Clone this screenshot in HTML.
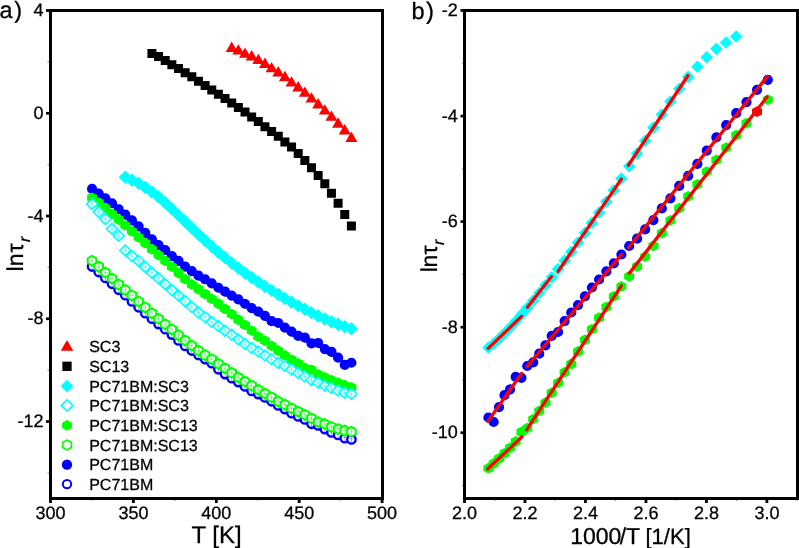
<!DOCTYPE html>
<html><head><meta charset="utf-8"><title>ln tau plots</title>
<style>
html,body{margin:0;padding:0;background:#fff;}
body{width:799px;height:548px;overflow:hidden;font-family:"Liberation Sans",sans-serif;}
svg{display:block;} text{text-rendering:geometricPrecision;} svg{will-change:transform;}
</style></head><body>
<svg width="799" height="548" viewBox="0 0 799 548">
<rect width="799" height="548" fill="#fff"/>
<g><circle cx="92.06" cy="266.5" r="4.2" fill="#fff" stroke="#0000ff" stroke-width="2.4"/><path d="M92.06 261.7V269.7M90.31 265.7H93.81" stroke="#0000ff" stroke-width="1" fill="none" opacity="0.35"/><circle cx="98.71" cy="272" r="4.2" fill="#fff" stroke="#0000ff" stroke-width="2.4"/><path d="M98.71 267.2V275.2M96.96 271.2H100.46" stroke="#0000ff" stroke-width="1" fill="none" opacity="0.35"/><circle cx="105.36" cy="277.9" r="4.2" fill="#fff" stroke="#0000ff" stroke-width="2.4"/><path d="M105.36 273.1V281.1M103.61 277.1H107.11" stroke="#0000ff" stroke-width="1" fill="none" opacity="0.35"/><circle cx="112.01" cy="283.8" r="4.2" fill="#fff" stroke="#0000ff" stroke-width="2.4"/><path d="M112.01 279V287M110.26 283H113.76" stroke="#0000ff" stroke-width="1" fill="none" opacity="0.35"/><circle cx="118.66" cy="289.8" r="4.2" fill="#fff" stroke="#0000ff" stroke-width="2.4"/><path d="M118.66 285V293M116.91 289H120.41" stroke="#0000ff" stroke-width="1" fill="none" opacity="0.35"/><circle cx="125.31" cy="295.2" r="4.2" fill="#fff" stroke="#0000ff" stroke-width="2.4"/><path d="M125.31 290.4V298.4M123.56 294.4H127.06" stroke="#0000ff" stroke-width="1" fill="none" opacity="0.35"/><circle cx="131.96" cy="301.4" r="4.2" fill="#fff" stroke="#0000ff" stroke-width="2.4"/><path d="M131.96 296.6V304.6M130.21 300.6H133.71" stroke="#0000ff" stroke-width="1" fill="none" opacity="0.35"/><circle cx="138.61" cy="307.3" r="4.2" fill="#fff" stroke="#0000ff" stroke-width="2.4"/><path d="M138.61 302.5V310.5M136.86 306.5H140.36" stroke="#0000ff" stroke-width="1" fill="none" opacity="0.35"/><circle cx="145.26" cy="313.2" r="4.2" fill="#fff" stroke="#0000ff" stroke-width="2.4"/><path d="M145.26 308.4V316.4M143.51 312.4H147.01" stroke="#0000ff" stroke-width="1" fill="none" opacity="0.35"/><circle cx="151.91" cy="318.7" r="4.2" fill="#fff" stroke="#0000ff" stroke-width="2.4"/><path d="M151.91 313.9V321.9M150.16 317.9H153.66" stroke="#0000ff" stroke-width="1" fill="none" opacity="0.35"/><circle cx="158.56" cy="324.1" r="4.2" fill="#fff" stroke="#0000ff" stroke-width="2.4"/><path d="M158.56 319.3V327.3M156.81 323.3H160.31" stroke="#0000ff" stroke-width="1" fill="none" opacity="0.35"/><circle cx="165.21" cy="329.2" r="4.2" fill="#fff" stroke="#0000ff" stroke-width="2.4"/><path d="M165.21 324.4V332.4M163.46 328.4H166.96" stroke="#0000ff" stroke-width="1" fill="none" opacity="0.35"/><circle cx="171.86" cy="334.6" r="4.2" fill="#fff" stroke="#0000ff" stroke-width="2.4"/><path d="M171.86 329.8V337.8M170.11 333.8H173.61" stroke="#0000ff" stroke-width="1" fill="none" opacity="0.35"/><circle cx="178.51" cy="340.4" r="4.2" fill="#fff" stroke="#0000ff" stroke-width="2.4"/><path d="M178.51 335.6V343.6M176.76 339.6H180.26" stroke="#0000ff" stroke-width="1" fill="none" opacity="0.35"/><circle cx="185.16" cy="345.9" r="4.2" fill="#fff" stroke="#0000ff" stroke-width="2.4"/><path d="M185.16 341.1V349.1M183.41 345.1H186.91" stroke="#0000ff" stroke-width="1" fill="none" opacity="0.35"/><circle cx="191.81" cy="350.5" r="4.2" fill="#fff" stroke="#0000ff" stroke-width="2.4"/><path d="M191.81 345.7V353.7M190.06 349.7H193.56" stroke="#0000ff" stroke-width="1" fill="none" opacity="0.35"/><circle cx="198.46" cy="355" r="4.2" fill="#fff" stroke="#0000ff" stroke-width="2.4"/><path d="M198.46 350.2V358.2M196.71 354.2H200.21" stroke="#0000ff" stroke-width="1" fill="none" opacity="0.35"/><circle cx="205.11" cy="359.1" r="4.2" fill="#fff" stroke="#0000ff" stroke-width="2.4"/><path d="M205.11 354.3V362.3M203.36 358.3H206.86" stroke="#0000ff" stroke-width="1" fill="none" opacity="0.35"/><circle cx="211.76" cy="363.2" r="4.2" fill="#fff" stroke="#0000ff" stroke-width="2.4"/><path d="M211.76 358.4V366.4M210.01 362.4H213.51" stroke="#0000ff" stroke-width="1" fill="none" opacity="0.35"/><circle cx="218.41" cy="369.3" r="4.2" fill="#fff" stroke="#0000ff" stroke-width="2.4"/><path d="M218.41 364.5V372.5M216.66 368.5H220.16" stroke="#0000ff" stroke-width="1" fill="none" opacity="0.35"/><circle cx="225.06" cy="374.1" r="4.2" fill="#fff" stroke="#0000ff" stroke-width="2.4"/><path d="M225.06 369.3V377.3M223.31 373.3H226.81" stroke="#0000ff" stroke-width="1" fill="none" opacity="0.35"/><circle cx="231.71" cy="378.2" r="4.2" fill="#fff" stroke="#0000ff" stroke-width="2.4"/><path d="M231.71 373.4V381.4M229.96 377.4H233.46" stroke="#0000ff" stroke-width="1" fill="none" opacity="0.35"/><circle cx="238.36" cy="382.1" r="4.2" fill="#fff" stroke="#0000ff" stroke-width="2.4"/><path d="M238.36 377.3V385.3M236.61 381.3H240.11" stroke="#0000ff" stroke-width="1" fill="none" opacity="0.35"/><circle cx="245.01" cy="386.4" r="4.2" fill="#fff" stroke="#0000ff" stroke-width="2.4"/><path d="M245.01 381.6V389.6M243.26 385.6H246.76" stroke="#0000ff" stroke-width="1" fill="none" opacity="0.35"/><circle cx="251.66" cy="390.9" r="4.2" fill="#fff" stroke="#0000ff" stroke-width="2.4"/><path d="M251.66 386.1V394.1M249.91 390.1H253.41" stroke="#0000ff" stroke-width="1" fill="none" opacity="0.35"/><circle cx="258.31" cy="394.1" r="4.2" fill="#fff" stroke="#0000ff" stroke-width="2.4"/><path d="M258.31 389.3V397.3M256.56 393.3H260.06" stroke="#0000ff" stroke-width="1" fill="none" opacity="0.35"/><circle cx="264.96" cy="397.4" r="4.2" fill="#fff" stroke="#0000ff" stroke-width="2.4"/><path d="M264.96 392.6V400.6M263.21 396.6H266.71" stroke="#0000ff" stroke-width="1" fill="none" opacity="0.35"/><circle cx="271.61" cy="401.3" r="4.2" fill="#fff" stroke="#0000ff" stroke-width="2.4"/><path d="M271.61 396.5V404.5M269.86 400.5H273.36" stroke="#0000ff" stroke-width="1" fill="none" opacity="0.35"/><circle cx="278.26" cy="405.4" r="4.2" fill="#fff" stroke="#0000ff" stroke-width="2.4"/><path d="M278.26 400.6V408.6M276.51 404.6H280.01" stroke="#0000ff" stroke-width="1" fill="none" opacity="0.35"/><circle cx="284.91" cy="409.1" r="4.2" fill="#fff" stroke="#0000ff" stroke-width="2.4"/><path d="M284.91 404.3V412.3M283.16 408.3H286.66" stroke="#0000ff" stroke-width="1" fill="none" opacity="0.35"/><circle cx="291.56" cy="413.2" r="4.2" fill="#fff" stroke="#0000ff" stroke-width="2.4"/><path d="M291.56 408.4V416.4M289.81 412.4H293.31" stroke="#0000ff" stroke-width="1" fill="none" opacity="0.35"/><circle cx="298.21" cy="416.4" r="4.2" fill="#fff" stroke="#0000ff" stroke-width="2.4"/><path d="M298.21 411.6V419.6M296.46 415.6H299.96" stroke="#0000ff" stroke-width="1" fill="none" opacity="0.35"/><circle cx="304.86" cy="419.4" r="4.2" fill="#fff" stroke="#0000ff" stroke-width="2.4"/><path d="M304.86 414.6V422.6M303.11 418.6H306.61" stroke="#0000ff" stroke-width="1" fill="none" opacity="0.35"/><circle cx="311.51" cy="423.8" r="4.2" fill="#fff" stroke="#0000ff" stroke-width="2.4"/><path d="M311.51 419V427M309.76 423H313.26" stroke="#0000ff" stroke-width="1" fill="none" opacity="0.35"/><circle cx="318.16" cy="425.4" r="4.2" fill="#fff" stroke="#0000ff" stroke-width="2.4"/><path d="M318.16 420.6V428.6M316.41 424.6H319.91" stroke="#0000ff" stroke-width="1" fill="none" opacity="0.35"/><circle cx="324.81" cy="429.1" r="4.2" fill="#fff" stroke="#0000ff" stroke-width="2.4"/><path d="M324.81 424.3V432.3M323.06 428.3H326.56" stroke="#0000ff" stroke-width="1" fill="none" opacity="0.35"/><circle cx="331.46" cy="432.4" r="4.2" fill="#fff" stroke="#0000ff" stroke-width="2.4"/><path d="M331.46 427.6V435.6M329.71 431.6H333.21" stroke="#0000ff" stroke-width="1" fill="none" opacity="0.35"/><circle cx="338.11" cy="434.9" r="4.2" fill="#fff" stroke="#0000ff" stroke-width="2.4"/><path d="M338.11 430.1V438.1M336.36 434.1H339.86" stroke="#0000ff" stroke-width="1" fill="none" opacity="0.35"/><circle cx="344.76" cy="438.2" r="4.2" fill="#fff" stroke="#0000ff" stroke-width="2.4"/><path d="M344.76 433.4V441.4M343.01 437.4H346.51" stroke="#0000ff" stroke-width="1" fill="none" opacity="0.35"/><circle cx="351.41" cy="439.4" r="4.2" fill="#fff" stroke="#0000ff" stroke-width="2.4"/><path d="M351.41 434.6V442.6M349.66 438.6H353.16" stroke="#0000ff" stroke-width="1" fill="none" opacity="0.35"/><path d="M86.96 188.9a5.1 5.1 0 1 0 10.2 0a5.1 5.1 0 1 0 -10.2 0ZM93.61 193.6a5.1 5.1 0 1 0 10.2 0a5.1 5.1 0 1 0 -10.2 0ZM100.26 198.37a5.1 5.1 0 1 0 10.2 0a5.1 5.1 0 1 0 -10.2 0ZM106.91 203.24a5.1 5.1 0 1 0 10.2 0a5.1 5.1 0 1 0 -10.2 0ZM113.56 209.23a5.1 5.1 0 1 0 10.2 0a5.1 5.1 0 1 0 -10.2 0ZM120.21 214.63a5.1 5.1 0 1 0 10.2 0a5.1 5.1 0 1 0 -10.2 0ZM126.86 220.42a5.1 5.1 0 1 0 10.2 0a5.1 5.1 0 1 0 -10.2 0ZM133.51 226.41a5.1 5.1 0 1 0 10.2 0a5.1 5.1 0 1 0 -10.2 0ZM140.16 232.83a5.1 5.1 0 1 0 10.2 0a5.1 5.1 0 1 0 -10.2 0ZM146.81 239.31a5.1 5.1 0 1 0 10.2 0a5.1 5.1 0 1 0 -10.2 0ZM153.46 245.1a5.1 5.1 0 1 0 10.2 0a5.1 5.1 0 1 0 -10.2 0ZM160.11 250.01a5.1 5.1 0 1 0 10.2 0a5.1 5.1 0 1 0 -10.2 0ZM166.76 256.05a5.1 5.1 0 1 0 10.2 0a5.1 5.1 0 1 0 -10.2 0ZM173.41 260.97a5.1 5.1 0 1 0 10.2 0a5.1 5.1 0 1 0 -10.2 0ZM180.06 266.66a5.1 5.1 0 1 0 10.2 0a5.1 5.1 0 1 0 -10.2 0ZM186.71 271.19a5.1 5.1 0 1 0 10.2 0a5.1 5.1 0 1 0 -10.2 0ZM193.36 275.71a5.1 5.1 0 1 0 10.2 0a5.1 5.1 0 1 0 -10.2 0ZM200.01 279.27a5.1 5.1 0 1 0 10.2 0a5.1 5.1 0 1 0 -10.2 0ZM206.66 283.4a5.1 5.1 0 1 0 10.2 0a5.1 5.1 0 1 0 -10.2 0ZM213.31 287.74a5.1 5.1 0 1 0 10.2 0a5.1 5.1 0 1 0 -10.2 0ZM219.96 291.63a5.1 5.1 0 1 0 10.2 0a5.1 5.1 0 1 0 -10.2 0ZM226.61 295.57a5.1 5.1 0 1 0 10.2 0a5.1 5.1 0 1 0 -10.2 0ZM233.26 299.47a5.1 5.1 0 1 0 10.2 0a5.1 5.1 0 1 0 -10.2 0ZM239.91 303.75a5.1 5.1 0 1 0 10.2 0a5.1 5.1 0 1 0 -10.2 0ZM246.56 308.03a5.1 5.1 0 1 0 10.2 0a5.1 5.1 0 1 0 -10.2 0ZM253.21 311.63a5.1 5.1 0 1 0 10.2 0a5.1 5.1 0 1 0 -10.2 0ZM259.86 315.82a5.1 5.1 0 1 0 10.2 0a5.1 5.1 0 1 0 -10.2 0ZM266.51 321.13a5.1 5.1 0 1 0 10.2 0a5.1 5.1 0 1 0 -10.2 0ZM273.16 322.98a5.1 5.1 0 1 0 10.2 0a5.1 5.1 0 1 0 -10.2 0ZM279.81 327.65a5.1 5.1 0 1 0 10.2 0a5.1 5.1 0 1 0 -10.2 0ZM286.46 331.69a5.1 5.1 0 1 0 10.2 0a5.1 5.1 0 1 0 -10.2 0ZM293.11 335.92a5.1 5.1 0 1 0 10.2 0a5.1 5.1 0 1 0 -10.2 0ZM299.76 337.68a5.1 5.1 0 1 0 10.2 0a5.1 5.1 0 1 0 -10.2 0ZM306.41 343.47a5.1 5.1 0 1 0 10.2 0a5.1 5.1 0 1 0 -10.2 0ZM313.06 342.98a5.1 5.1 0 1 0 10.2 0a5.1 5.1 0 1 0 -10.2 0ZM319.71 349.06a5.1 5.1 0 1 0 10.2 0a5.1 5.1 0 1 0 -10.2 0ZM326.36 351.89a5.1 5.1 0 1 0 10.2 0a5.1 5.1 0 1 0 -10.2 0ZM333.01 357.68a5.1 5.1 0 1 0 10.2 0a5.1 5.1 0 1 0 -10.2 0ZM339.66 364.93a5.1 5.1 0 1 0 10.2 0a5.1 5.1 0 1 0 -10.2 0ZM346.31 362.74a5.1 5.1 0 1 0 10.2 0a5.1 5.1 0 1 0 -10.2 0Z" fill="#0000ff"/><polygon points="92.06,255.8 96.36,258.25 96.36,263.15 92.06,265.6 87.76,263.15 87.76,258.25" fill="#fff" stroke="#00ff00" stroke-width="2"/><path d="M92.06 256.7V264.7M90.31 260.7H93.81" stroke="#00ff00" stroke-width="1" fill="none" opacity="0.5"/><polygon points="98.71,261.7 103.01,264.15 103.01,269.05 98.71,271.5 94.41,269.05 94.41,264.15" fill="#fff" stroke="#00ff00" stroke-width="2"/><path d="M98.71 262.6V270.6M96.96 266.6H100.46" stroke="#00ff00" stroke-width="1" fill="none" opacity="0.5"/><polygon points="105.36,267.6 109.66,270.05 109.66,274.95 105.36,277.4 101.06,274.95 101.06,270.05" fill="#fff" stroke="#00ff00" stroke-width="2"/><path d="M105.36 268.5V276.5M103.61 272.5H107.11" stroke="#00ff00" stroke-width="1" fill="none" opacity="0.5"/><polygon points="112.01,273.6 116.31,276.05 116.31,280.95 112.01,283.4 107.71,280.95 107.71,276.05" fill="#fff" stroke="#00ff00" stroke-width="2"/><path d="M112.01 274.5V282.5M110.26 278.5H113.76" stroke="#00ff00" stroke-width="1" fill="none" opacity="0.5"/><polygon points="118.66,279.5 122.96,281.95 122.96,286.85 118.66,289.3 114.36,286.85 114.36,281.95" fill="#fff" stroke="#00ff00" stroke-width="2"/><path d="M118.66 280.4V288.4M116.91 284.4H120.41" stroke="#00ff00" stroke-width="1" fill="none" opacity="0.5"/><polygon points="125.31,285 129.61,287.45 129.61,292.35 125.31,294.8 121.01,292.35 121.01,287.45" fill="#fff" stroke="#00ff00" stroke-width="2"/><path d="M125.31 285.9V293.9M123.56 289.9H127.06" stroke="#00ff00" stroke-width="1" fill="none" opacity="0.5"/><polygon points="131.96,290.5 136.26,292.95 136.26,297.85 131.96,300.3 127.66,297.85 127.66,292.95" fill="#fff" stroke="#00ff00" stroke-width="2"/><path d="M131.96 291.4V299.4M130.21 295.4H133.71" stroke="#00ff00" stroke-width="1" fill="none" opacity="0.5"/><polygon points="138.61,296.5 142.91,298.95 142.91,303.85 138.61,306.3 134.31,303.85 134.31,298.95" fill="#fff" stroke="#00ff00" stroke-width="2"/><path d="M138.61 297.4V305.4M136.86 301.4H140.36" stroke="#00ff00" stroke-width="1" fill="none" opacity="0.5"/><polygon points="145.26,302.5 149.56,304.95 149.56,309.85 145.26,312.3 140.96,309.85 140.96,304.95" fill="#fff" stroke="#00ff00" stroke-width="2"/><path d="M145.26 303.4V311.4M143.51 307.4H147.01" stroke="#00ff00" stroke-width="1" fill="none" opacity="0.5"/><polygon points="151.91,308.4 156.21,310.85 156.21,315.75 151.91,318.2 147.61,315.75 147.61,310.85" fill="#fff" stroke="#00ff00" stroke-width="2"/><path d="M151.91 309.3V317.3M150.16 313.3H153.66" stroke="#00ff00" stroke-width="1" fill="none" opacity="0.5"/><polygon points="158.56,313.9 162.86,316.35 162.86,321.25 158.56,323.7 154.26,321.25 154.26,316.35" fill="#fff" stroke="#00ff00" stroke-width="2"/><path d="M158.56 314.8V322.8M156.81 318.8H160.31" stroke="#00ff00" stroke-width="1" fill="none" opacity="0.5"/><polygon points="165.21,319.3 169.51,321.75 169.51,326.65 165.21,329.1 160.91,326.65 160.91,321.75" fill="#fff" stroke="#00ff00" stroke-width="2"/><path d="M165.21 320.2V328.2M163.46 324.2H166.96" stroke="#00ff00" stroke-width="1" fill="none" opacity="0.5"/><polygon points="171.86,324.5 176.16,326.95 176.16,331.85 171.86,334.3 167.56,331.85 167.56,326.95" fill="#fff" stroke="#00ff00" stroke-width="2"/><path d="M171.86 325.4V333.4M170.11 329.4H173.61" stroke="#00ff00" stroke-width="1" fill="none" opacity="0.5"/><polygon points="178.51,330.2 182.81,332.65 182.81,337.55 178.51,340 174.21,337.55 174.21,332.65" fill="#fff" stroke="#00ff00" stroke-width="2"/><path d="M178.51 331.1V339.1M176.76 335.1H180.26" stroke="#00ff00" stroke-width="1" fill="none" opacity="0.5"/><polygon points="185.16,335.6 189.46,338.05 189.46,342.95 185.16,345.4 180.86,342.95 180.86,338.05" fill="#fff" stroke="#00ff00" stroke-width="2"/><path d="M185.16 336.5V344.5M183.41 340.5H186.91" stroke="#00ff00" stroke-width="1" fill="none" opacity="0.5"/><polygon points="191.81,340.6 196.11,343.05 196.11,347.95 191.81,350.4 187.51,347.95 187.51,343.05" fill="#fff" stroke="#00ff00" stroke-width="2"/><path d="M191.81 341.5V349.5M190.06 345.5H193.56" stroke="#00ff00" stroke-width="1" fill="none" opacity="0.5"/><polygon points="198.46,345.7 202.76,348.15 202.76,353.05 198.46,355.5 194.16,353.05 194.16,348.15" fill="#fff" stroke="#00ff00" stroke-width="2"/><path d="M198.46 346.6V354.6M196.71 350.6H200.21" stroke="#00ff00" stroke-width="1" fill="none" opacity="0.5"/><polygon points="205.11,350.2 209.41,352.65 209.41,357.55 205.11,360 200.81,357.55 200.81,352.65" fill="#fff" stroke="#00ff00" stroke-width="2"/><path d="M205.11 351.1V359.1M203.36 355.1H206.86" stroke="#00ff00" stroke-width="1" fill="none" opacity="0.5"/><polygon points="211.76,354.3 216.06,356.75 216.06,361.65 211.76,364.1 207.46,361.65 207.46,356.75" fill="#fff" stroke="#00ff00" stroke-width="2"/><path d="M211.76 355.2V363.2M210.01 359.2H213.51" stroke="#00ff00" stroke-width="1" fill="none" opacity="0.5"/><polygon points="218.41,358.9 222.71,361.35 222.71,366.25 218.41,368.7 214.11,366.25 214.11,361.35" fill="#fff" stroke="#00ff00" stroke-width="2"/><path d="M218.41 359.8V367.8M216.66 363.8H220.16" stroke="#00ff00" stroke-width="1" fill="none" opacity="0.5"/><polygon points="225.06,363.3 229.36,365.75 229.36,370.65 225.06,373.1 220.76,370.65 220.76,365.75" fill="#fff" stroke="#00ff00" stroke-width="2"/><path d="M225.06 364.2V372.2M223.31 368.2H226.81" stroke="#00ff00" stroke-width="1" fill="none" opacity="0.5"/><polygon points="231.71,367.9 236.01,370.35 236.01,375.25 231.71,377.7 227.41,375.25 227.41,370.35" fill="#fff" stroke="#00ff00" stroke-width="2"/><path d="M231.71 368.8V376.8M229.96 372.8H233.46" stroke="#00ff00" stroke-width="1" fill="none" opacity="0.5"/><polygon points="238.36,372.5 242.66,374.95 242.66,379.85 238.36,382.3 234.06,379.85 234.06,374.95" fill="#fff" stroke="#00ff00" stroke-width="2"/><path d="M238.36 373.4V381.4M236.61 377.4H240.11" stroke="#00ff00" stroke-width="1" fill="none" opacity="0.5"/><polygon points="245.01,376.6 249.31,379.05 249.31,383.95 245.01,386.4 240.71,383.95 240.71,379.05" fill="#fff" stroke="#00ff00" stroke-width="2"/><path d="M245.01 377.5V385.5M243.26 381.5H246.76" stroke="#00ff00" stroke-width="1" fill="none" opacity="0.5"/><polygon points="251.66,380.7 255.96,383.15 255.96,388.05 251.66,390.5 247.36,388.05 247.36,383.15" fill="#fff" stroke="#00ff00" stroke-width="2"/><path d="M251.66 381.6V389.6M249.91 385.6H253.41" stroke="#00ff00" stroke-width="1" fill="none" opacity="0.5"/><polygon points="258.31,384.8 262.61,387.25 262.61,392.15 258.31,394.6 254.01,392.15 254.01,387.25" fill="#fff" stroke="#00ff00" stroke-width="2"/><path d="M258.31 385.7V393.7M256.56 389.7H260.06" stroke="#00ff00" stroke-width="1" fill="none" opacity="0.5"/><polygon points="264.96,388.6 269.26,391.05 269.26,395.95 264.96,398.4 260.66,395.95 260.66,391.05" fill="#fff" stroke="#00ff00" stroke-width="2"/><path d="M264.96 389.5V397.5M263.21 393.5H266.71" stroke="#00ff00" stroke-width="1" fill="none" opacity="0.5"/><polygon points="271.61,392.4 275.91,394.85 275.91,399.75 271.61,402.2 267.31,399.75 267.31,394.85" fill="#fff" stroke="#00ff00" stroke-width="2"/><path d="M271.61 393.3V401.3M269.86 397.3H273.36" stroke="#00ff00" stroke-width="1" fill="none" opacity="0.5"/><polygon points="278.26,396.5 282.56,398.95 282.56,403.85 278.26,406.3 273.96,403.85 273.96,398.95" fill="#fff" stroke="#00ff00" stroke-width="2"/><path d="M278.26 397.4V405.4M276.51 401.4H280.01" stroke="#00ff00" stroke-width="1" fill="none" opacity="0.5"/><polygon points="284.91,399.7 289.21,402.15 289.21,407.05 284.91,409.5 280.61,407.05 280.61,402.15" fill="#fff" stroke="#00ff00" stroke-width="2"/><path d="M284.91 400.6V408.6M283.16 404.6H286.66" stroke="#00ff00" stroke-width="1" fill="none" opacity="0.5"/><polygon points="291.56,403.4 295.86,405.85 295.86,410.75 291.56,413.2 287.26,410.75 287.26,405.85" fill="#fff" stroke="#00ff00" stroke-width="2"/><path d="M291.56 404.3V412.3M289.81 408.3H293.31" stroke="#00ff00" stroke-width="1" fill="none" opacity="0.5"/><polygon points="298.21,406.6 302.51,409.05 302.51,413.95 298.21,416.4 293.91,413.95 293.91,409.05" fill="#fff" stroke="#00ff00" stroke-width="2"/><path d="M298.21 407.5V415.5M296.46 411.5H299.96" stroke="#00ff00" stroke-width="1" fill="none" opacity="0.5"/><polygon points="304.86,409.8 309.16,412.25 309.16,417.15 304.86,419.6 300.56,417.15 300.56,412.25" fill="#fff" stroke="#00ff00" stroke-width="2"/><path d="M304.86 410.7V418.7M303.11 414.7H306.61" stroke="#00ff00" stroke-width="1" fill="none" opacity="0.5"/><polygon points="311.51,413.4 315.81,415.85 315.81,420.75 311.51,423.2 307.21,420.75 307.21,415.85" fill="#fff" stroke="#00ff00" stroke-width="2"/><path d="M311.51 414.3V422.3M309.76 418.3H313.26" stroke="#00ff00" stroke-width="1" fill="none" opacity="0.5"/><polygon points="318.16,417.1 322.46,419.55 322.46,424.45 318.16,426.9 313.86,424.45 313.86,419.55" fill="#fff" stroke="#00ff00" stroke-width="2"/><path d="M318.16 418V426M316.41 422H319.91" stroke="#00ff00" stroke-width="1" fill="none" opacity="0.5"/><polygon points="324.81,419.1 329.11,421.55 329.11,426.45 324.81,428.9 320.51,426.45 320.51,421.55" fill="#fff" stroke="#00ff00" stroke-width="2"/><path d="M324.81 420V428M323.06 424H326.56" stroke="#00ff00" stroke-width="1" fill="none" opacity="0.5"/><polygon points="331.46,422 335.76,424.45 335.76,429.35 331.46,431.8 327.16,429.35 327.16,424.45" fill="#fff" stroke="#00ff00" stroke-width="2"/><path d="M331.46 422.9V430.9M329.71 426.9H333.21" stroke="#00ff00" stroke-width="1" fill="none" opacity="0.5"/><polygon points="338.11,424.1 342.41,426.55 342.41,431.45 338.11,433.9 333.81,431.45 333.81,426.55" fill="#fff" stroke="#00ff00" stroke-width="2"/><path d="M338.11 425V433M336.36 429H339.86" stroke="#00ff00" stroke-width="1" fill="none" opacity="0.5"/><polygon points="344.76,425.7 349.06,428.15 349.06,433.05 344.76,435.5 340.46,433.05 340.46,428.15" fill="#fff" stroke="#00ff00" stroke-width="2"/><path d="M344.76 426.6V434.6M343.01 430.6H346.51" stroke="#00ff00" stroke-width="1" fill="none" opacity="0.5"/><polygon points="351.41,426.9 355.71,429.35 355.71,434.25 351.41,436.7 347.11,434.25 347.11,429.35" fill="#fff" stroke="#00ff00" stroke-width="2"/><path d="M351.41 427.8V435.8M349.66 431.8H353.16" stroke="#00ff00" stroke-width="1" fill="none" opacity="0.5"/><path d="M92.06 192.4L97.06 195.1L97.06 200.5L92.06 203.2L87.06 200.5L87.06 195.1ZM98.71 197.2L103.71 199.9L103.71 205.3L98.71 208L93.71 205.3L93.71 199.9ZM105.36 202.61L110.36 205.31L110.36 210.71L105.36 213.41L100.36 210.71L100.36 205.31ZM112.01 208.5L117.01 211.2L117.01 216.6L112.01 219.3L107.01 216.6L107.01 211.2ZM118.66 214.1L123.66 216.8L123.66 222.2L118.66 224.9L113.66 222.2L113.66 216.8ZM125.31 219.94L130.31 222.64L130.31 228.04L125.31 230.74L120.31 228.04L120.31 222.64ZM131.96 225.97L136.96 228.67L136.96 234.07L131.96 236.77L126.96 234.07L126.96 228.67ZM138.61 231.96L143.61 234.66L143.61 240.06L138.61 242.76L133.61 240.06L133.61 234.66ZM145.26 237.65L150.26 240.35L150.26 245.75L145.26 248.45L140.26 245.75L140.26 240.35ZM151.91 243.83L156.91 246.53L156.91 251.93L151.91 254.63L146.91 251.93L146.91 246.53ZM158.56 249.68L163.56 252.38L163.56 257.78L158.56 260.48L153.56 257.78L153.56 252.38ZM165.21 255.47L170.21 258.17L170.21 263.57L165.21 266.27L160.21 263.57L160.21 258.17ZM171.86 261.41L176.86 264.11L176.86 269.51L171.86 272.21L166.86 269.51L166.86 264.11ZM178.51 267.59L183.51 270.29L183.51 275.69L178.51 278.39L173.51 275.69L173.51 270.29ZM185.16 273.82L190.16 276.52L190.16 281.92L185.16 284.62L180.16 281.92L180.16 276.52ZM191.81 279.03L196.81 281.73L196.81 287.13L191.81 289.83L186.81 287.13L186.81 281.73ZM198.46 283.84L203.46 286.54L203.46 291.94L198.46 294.64L193.46 291.94L193.46 286.54ZM205.11 288.66L210.11 291.36L210.11 296.76L205.11 299.46L200.11 296.76L200.11 291.36ZM211.76 293.53L216.76 296.23L216.76 301.63L211.76 304.33L206.76 301.63L206.76 296.23ZM218.41 298.35L223.41 301.05L223.41 306.45L218.41 309.15L213.41 306.45L213.41 301.05ZM225.06 303.56L230.06 306.26L230.06 311.66L225.06 314.36L220.06 311.66L220.06 306.26ZM231.71 308.77L236.71 311.47L236.71 316.87L231.71 319.57L226.71 316.87L226.71 311.47ZM238.36 314.36L243.36 317.06L243.36 322.46L238.36 325.16L233.36 322.46L233.36 317.06ZM245.01 319.57L250.01 322.27L250.01 327.67L245.01 330.37L240.01 327.67L240.01 322.27ZM251.66 325.22L256.66 327.92L256.66 333.32L251.66 336.02L246.66 333.32L246.66 327.92ZM258.31 331.3L263.31 334L263.31 339.4L258.31 342.1L253.31 339.4L253.31 334ZM264.96 335.29L269.96 337.99L269.96 343.39L264.96 346.09L259.96 343.39L259.96 337.99ZM271.61 340.5L276.61 343.2L276.61 348.6L271.61 351.3L266.61 348.6L266.61 343.2ZM278.26 345.32L283.26 348.02L283.26 353.42L278.26 356.12L273.26 353.42L273.26 348.02ZM284.91 350.09L289.91 352.79L289.91 358.19L284.91 360.89L279.91 358.19L279.91 352.79ZM291.56 354.13L296.56 356.83L296.56 362.23L291.56 364.93L286.56 362.23L286.56 356.83ZM298.21 358.12L303.21 360.82L303.21 366.22L298.21 368.92L293.21 366.22L293.21 360.82ZM304.86 362.5L309.86 365.2L309.86 370.6L304.86 373.3L299.86 370.6L299.86 365.2ZM311.51 364.4L316.51 367.1L316.51 372.5L311.51 375.2L306.51 372.5L306.51 367.1ZM318.16 369.02L323.16 371.72L323.16 377.12L318.16 379.82L313.16 377.12L313.16 371.72ZM324.81 372.09L329.81 374.79L329.81 380.19L324.81 382.89L319.81 380.19L319.81 374.79ZM331.46 374.77L336.46 377.47L336.46 382.87L331.46 385.57L326.46 382.87L326.46 377.47ZM338.11 377.3L343.11 380L343.11 385.4L338.11 388.1L333.11 385.4L333.11 380ZM344.76 379.73L349.76 382.43L349.76 387.83L344.76 390.53L339.76 387.83L339.76 382.43ZM351.41 382.02L356.41 384.72L356.41 390.12L351.41 392.82L346.41 390.12L346.41 384.72Z" fill="#00ff00"/><polygon points="92.06,198.6 97.66,204 92.06,209.4 86.46,204" fill="#fff" stroke="#00ffff" stroke-width="1.6"/><path d="M92.06 200V208M90.31 204H93.81" stroke="#00ffff" stroke-width="1" fill="none" opacity="0.6"/><polygon points="98.71,206.7 104.31,212.1 98.71,217.5 93.11,212.1" fill="#fff" stroke="#00ffff" stroke-width="1.6"/><path d="M98.71 208.1V216.1M96.96 212.1H100.46" stroke="#00ffff" stroke-width="1" fill="none" opacity="0.6"/><polygon points="105.36,213.6 110.96,219 105.36,224.4 99.76,219" fill="#fff" stroke="#00ffff" stroke-width="1.6"/><path d="M105.36 215V223M103.61 219H107.11" stroke="#00ffff" stroke-width="1" fill="none" opacity="0.6"/><polygon points="112.01,223.4 117.61,228.8 112.01,234.2 106.41,228.8" fill="#fff" stroke="#00ffff" stroke-width="1.6"/><path d="M112.01 224.8V232.8M110.26 228.8H113.76" stroke="#00ffff" stroke-width="1" fill="none" opacity="0.6"/><polygon points="118.66,230.3 124.26,235.7 118.66,241.1 113.06,235.7" fill="#fff" stroke="#00ffff" stroke-width="1.6"/><path d="M118.66 231.7V239.7M116.91 235.7H120.41" stroke="#00ffff" stroke-width="1" fill="none" opacity="0.6"/><polygon points="125.31,245 130.91,250.4 125.31,255.8 119.71,250.4" fill="#fff" stroke="#00ffff" stroke-width="1.6"/><path d="M125.31 246.4V254.4M123.56 250.4H127.06" stroke="#00ffff" stroke-width="1" fill="none" opacity="0.6"/><polygon points="131.96,250.7 137.56,256.1 131.96,261.5 126.36,256.1" fill="#fff" stroke="#00ffff" stroke-width="1.6"/><path d="M131.96 252.1V260.1M130.21 256.1H133.71" stroke="#00ffff" stroke-width="1" fill="none" opacity="0.6"/><polygon points="138.61,255.5 144.21,260.9 138.61,266.3 133.01,260.9" fill="#fff" stroke="#00ffff" stroke-width="1.6"/><path d="M138.61 256.9V264.9M136.86 260.9H140.36" stroke="#00ffff" stroke-width="1" fill="none" opacity="0.6"/><polygon points="145.26,261.5 150.86,266.9 145.26,272.3 139.66,266.9" fill="#fff" stroke="#00ffff" stroke-width="1.6"/><path d="M145.26 262.9V270.9M143.51 266.9H147.01" stroke="#00ffff" stroke-width="1" fill="none" opacity="0.6"/><polygon points="151.91,267.4 157.51,272.8 151.91,278.2 146.31,272.8" fill="#fff" stroke="#00ffff" stroke-width="1.6"/><path d="M151.91 268.8V276.8M150.16 272.8H153.66" stroke="#00ffff" stroke-width="1" fill="none" opacity="0.6"/><polygon points="158.56,272.9 164.16,278.3 158.56,283.7 152.96,278.3" fill="#fff" stroke="#00ffff" stroke-width="1.6"/><path d="M158.56 274.3V282.3M156.81 278.3H160.31" stroke="#00ffff" stroke-width="1" fill="none" opacity="0.6"/><polygon points="165.21,278.8 170.81,284.2 165.21,289.6 159.61,284.2" fill="#fff" stroke="#00ffff" stroke-width="1.6"/><path d="M165.21 280.2V288.2M163.46 284.2H166.96" stroke="#00ffff" stroke-width="1" fill="none" opacity="0.6"/><polygon points="171.86,284.7 177.46,290.1 171.86,295.5 166.26,290.1" fill="#fff" stroke="#00ffff" stroke-width="1.6"/><path d="M171.86 286.1V294.1M170.11 290.1H173.61" stroke="#00ffff" stroke-width="1" fill="none" opacity="0.6"/><polygon points="178.51,290.2 184.11,295.6 178.51,301 172.91,295.6" fill="#fff" stroke="#00ffff" stroke-width="1.6"/><path d="M178.51 291.6V299.6M176.76 295.6H180.26" stroke="#00ffff" stroke-width="1" fill="none" opacity="0.6"/><polygon points="185.16,295.8 190.76,301.2 185.16,306.6 179.56,301.2" fill="#fff" stroke="#00ffff" stroke-width="1.6"/><path d="M185.16 297.2V305.2M183.41 301.2H186.91" stroke="#00ffff" stroke-width="1" fill="none" opacity="0.6"/><polygon points="191.81,301.7 197.41,307.1 191.81,312.5 186.21,307.1" fill="#fff" stroke="#00ffff" stroke-width="1.6"/><path d="M191.81 303.1V311.1M190.06 307.1H193.56" stroke="#00ffff" stroke-width="1" fill="none" opacity="0.6"/><polygon points="198.46,307.2 204.06,312.6 198.46,318 192.86,312.6" fill="#fff" stroke="#00ffff" stroke-width="1.6"/><path d="M198.46 308.6V316.6M196.71 312.6H200.21" stroke="#00ffff" stroke-width="1" fill="none" opacity="0.6"/><polygon points="205.11,311.7 210.71,317.1 205.11,322.5 199.51,317.1" fill="#fff" stroke="#00ffff" stroke-width="1.6"/><path d="M205.11 313.1V321.1M203.36 317.1H206.86" stroke="#00ffff" stroke-width="1" fill="none" opacity="0.6"/><polygon points="211.76,316.7 217.36,322.1 211.76,327.5 206.16,322.1" fill="#fff" stroke="#00ffff" stroke-width="1.6"/><path d="M211.76 318.1V326.1M210.01 322.1H213.51" stroke="#00ffff" stroke-width="1" fill="none" opacity="0.6"/><polygon points="218.41,320.7 224.01,326.1 218.41,331.5 212.81,326.1" fill="#fff" stroke="#00ffff" stroke-width="1.6"/><path d="M218.41 322.1V330.1M216.66 326.1H220.16" stroke="#00ffff" stroke-width="1" fill="none" opacity="0.6"/><polygon points="225.06,325.3 230.66,330.7 225.06,336.1 219.46,330.7" fill="#fff" stroke="#00ffff" stroke-width="1.6"/><path d="M225.06 326.7V334.7M223.31 330.7H226.81" stroke="#00ffff" stroke-width="1" fill="none" opacity="0.6"/><polygon points="231.71,329.4 237.31,334.8 231.71,340.2 226.11,334.8" fill="#fff" stroke="#00ffff" stroke-width="1.6"/><path d="M231.71 330.8V338.8M229.96 334.8H233.46" stroke="#00ffff" stroke-width="1" fill="none" opacity="0.6"/><polygon points="238.36,334.2 243.96,339.6 238.36,345 232.76,339.6" fill="#fff" stroke="#00ffff" stroke-width="1.6"/><path d="M238.36 335.6V343.6M236.61 339.6H240.11" stroke="#00ffff" stroke-width="1" fill="none" opacity="0.6"/><polygon points="245.01,338.7 250.61,344.1 245.01,349.5 239.41,344.1" fill="#fff" stroke="#00ffff" stroke-width="1.6"/><path d="M245.01 340.1V348.1M243.26 344.1H246.76" stroke="#00ffff" stroke-width="1" fill="none" opacity="0.6"/><polygon points="251.66,342.7 257.26,348.1 251.66,353.5 246.06,348.1" fill="#fff" stroke="#00ffff" stroke-width="1.6"/><path d="M251.66 344.1V352.1M249.91 348.1H253.41" stroke="#00ffff" stroke-width="1" fill="none" opacity="0.6"/><polygon points="258.31,346.2 263.91,351.6 258.31,357 252.71,351.6" fill="#fff" stroke="#00ffff" stroke-width="1.6"/><path d="M258.31 347.6V355.6M256.56 351.6H260.06" stroke="#00ffff" stroke-width="1" fill="none" opacity="0.6"/><polygon points="264.96,350.2 270.56,355.6 264.96,361 259.36,355.6" fill="#fff" stroke="#00ffff" stroke-width="1.6"/><path d="M264.96 351.6V359.6M263.21 355.6H266.71" stroke="#00ffff" stroke-width="1" fill="none" opacity="0.6"/><polygon points="271.61,353.9 277.21,359.3 271.61,364.7 266.01,359.3" fill="#fff" stroke="#00ffff" stroke-width="1.6"/><path d="M271.61 355.3V363.3M269.86 359.3H273.36" stroke="#00ffff" stroke-width="1" fill="none" opacity="0.6"/><polygon points="278.26,357.6 283.86,363 278.26,368.4 272.66,363" fill="#fff" stroke="#00ffff" stroke-width="1.6"/><path d="M278.26 359V367M276.51 363H280.01" stroke="#00ffff" stroke-width="1" fill="none" opacity="0.6"/><polygon points="284.91,360.7 290.51,366.1 284.91,371.5 279.31,366.1" fill="#fff" stroke="#00ffff" stroke-width="1.6"/><path d="M284.91 362.1V370.1M283.16 366.1H286.66" stroke="#00ffff" stroke-width="1" fill="none" opacity="0.6"/><polygon points="291.56,364.2 297.16,369.6 291.56,375 285.96,369.6" fill="#fff" stroke="#00ffff" stroke-width="1.6"/><path d="M291.56 365.6V373.6M289.81 369.6H293.31" stroke="#00ffff" stroke-width="1" fill="none" opacity="0.6"/><polygon points="298.21,367.7 303.81,373.1 298.21,378.5 292.61,373.1" fill="#fff" stroke="#00ffff" stroke-width="1.6"/><path d="M298.21 369.1V377.1M296.46 373.1H299.96" stroke="#00ffff" stroke-width="1" fill="none" opacity="0.6"/><polygon points="304.86,371.2 310.46,376.6 304.86,382 299.26,376.6" fill="#fff" stroke="#00ffff" stroke-width="1.6"/><path d="M304.86 372.6V380.6M303.11 376.6H306.61" stroke="#00ffff" stroke-width="1" fill="none" opacity="0.6"/><polygon points="311.51,374.8 317.11,380.2 311.51,385.6 305.91,380.2" fill="#fff" stroke="#00ffff" stroke-width="1.6"/><path d="M311.51 376.2V384.2M309.76 380.2H313.26" stroke="#00ffff" stroke-width="1" fill="none" opacity="0.6"/><polygon points="318.16,377.3 323.76,382.7 318.16,388.1 312.56,382.7" fill="#fff" stroke="#00ffff" stroke-width="1.6"/><path d="M318.16 378.7V386.7M316.41 382.7H319.91" stroke="#00ffff" stroke-width="1" fill="none" opacity="0.6"/><polygon points="324.81,380.4 330.41,385.8 324.81,391.2 319.21,385.8" fill="#fff" stroke="#00ffff" stroke-width="1.6"/><path d="M324.81 381.8V389.8M323.06 385.8H326.56" stroke="#00ffff" stroke-width="1" fill="none" opacity="0.6"/><polygon points="331.46,382.6 337.06,388 331.46,393.4 325.86,388" fill="#fff" stroke="#00ffff" stroke-width="1.6"/><path d="M331.46 384V392M329.71 388H333.21" stroke="#00ffff" stroke-width="1" fill="none" opacity="0.6"/><polygon points="338.11,385.2 343.71,390.6 338.11,396 332.51,390.6" fill="#fff" stroke="#00ffff" stroke-width="1.6"/><path d="M338.11 386.6V394.6M336.36 390.6H339.86" stroke="#00ffff" stroke-width="1" fill="none" opacity="0.6"/><polygon points="344.76,387.3 350.36,392.7 344.76,398.1 339.16,392.7" fill="#fff" stroke="#00ffff" stroke-width="1.6"/><path d="M344.76 388.7V396.7M343.01 392.7H346.51" stroke="#00ffff" stroke-width="1" fill="none" opacity="0.6"/><polygon points="351.41,388.6 357.01,394 351.41,399.4 345.81,394" fill="#fff" stroke="#00ffff" stroke-width="1.6"/><path d="M351.41 390V398M349.66 394H353.16" stroke="#00ffff" stroke-width="1" fill="none" opacity="0.6"/><path d="M125.31 170.5L131.91 177.3L125.31 184.1L118.71 177.3ZM131.96 173.42L138.56 180.22L131.96 187.02L125.36 180.22ZM138.61 176.48L145.21 183.28L138.61 190.08L132.01 183.28ZM145.26 180.62L151.86 187.42L145.26 194.22L138.66 187.42ZM151.91 185.19L158.51 191.99L151.91 198.79L145.31 191.99ZM158.56 190.16L165.16 196.96L158.56 203.76L151.96 196.96ZM165.21 195.99L171.81 202.79L165.21 209.59L158.61 202.79ZM171.86 202.12L178.46 208.92L171.86 215.72L165.26 208.92ZM178.51 208.44L185.11 215.24L178.51 222.04L171.91 215.24ZM185.16 214.83L191.76 221.63L185.16 228.43L178.56 221.63ZM191.81 221.21L198.41 228.01L191.81 234.81L185.21 228.01ZM198.46 227.5L205.06 234.3L198.46 241.1L191.86 234.3ZM205.11 233.64L211.71 240.44L205.11 247.24L198.51 240.44ZM211.76 239.6L218.36 246.4L211.76 253.2L205.16 246.4ZM218.41 245.34L225.01 252.14L218.41 258.94L211.81 252.14ZM225.06 250.86L231.66 257.66L225.06 264.46L218.46 257.66ZM231.71 256.16L238.31 262.96L231.71 269.76L225.11 262.96ZM238.36 261.23L244.96 268.03L238.36 274.83L231.76 268.03ZM245.01 266.09L251.61 272.89L245.01 279.69L238.41 272.89ZM251.66 270.75L258.26 277.55L251.66 284.35L245.06 277.55ZM258.31 275.23L264.91 282.03L258.31 288.83L251.71 282.03ZM264.96 279.54L271.56 286.34L264.96 293.14L258.36 286.34ZM271.61 283.7L278.21 290.5L271.61 297.3L265.01 290.5ZM278.26 287.72L284.86 294.52L278.26 301.32L271.66 294.52ZM284.91 291.6L291.51 298.4L284.91 305.2L278.31 298.4ZM291.56 295.37L298.16 302.17L291.56 308.97L284.96 302.17ZM298.21 299L304.81 305.8L298.21 312.6L291.61 305.8ZM304.86 302.51L311.46 309.31L304.86 316.11L298.26 309.31ZM311.51 305.88L318.11 312.68L311.51 319.48L304.91 312.68ZM318.16 309.09L324.76 315.89L318.16 322.69L311.56 315.89ZM324.81 312.13L331.41 318.93L324.81 325.73L318.21 318.93ZM331.46 314.97L338.06 321.77L331.46 328.57L324.86 321.77ZM338.11 317.57L344.71 324.37L338.11 331.17L331.51 324.37ZM344.76 319.9L351.36 326.7L344.76 333.5L338.16 326.7ZM351.41 321.91L358.01 328.71L351.41 335.51L344.81 328.71Z" fill="#00ffff"/><path d="M147.41 48.9h9v9h-9ZM154.06 52.1h9v9h-9ZM160.71 55.9h9v9h-9ZM167.36 60.2h9v9h-9ZM174.01 64.1h9v9h-9ZM180.66 68.2h9v9h-9ZM187.31 72.3h9v9h-9ZM193.96 76.8h9v9h-9ZM200.61 81.1h9v9h-9ZM207.26 85.4h9v9h-9ZM213.91 89.7h9v9h-9ZM220.56 94.1h9v9h-9ZM227.21 98.5h9v9h-9ZM233.86 103h9v9h-9ZM240.51 107.5h9v9h-9ZM247.16 112.6h9v9h-9ZM253.81 117h9v9h-9ZM260.46 122.2h9v9h-9ZM267.11 127h9v9h-9ZM273.76 131.8h9v9h-9ZM280.41 137.5h9v9h-9ZM287.06 142.6h9v9h-9ZM293.71 149.1h9v9h-9ZM300.36 156h9v9h-9ZM307.01 163.3h9v9h-9ZM313.66 171h9v9h-9ZM320.31 179.3h9v9h-9ZM326.96 188.7h9v9h-9ZM333.61 198.7h9v9h-9ZM340.26 210h9v9h-9ZM346.91 221.5h9v9h-9Z" fill="#000"/><path d="M231.71 41.5L225.71 51.9L237.71 51.9ZM238.36 44.2L232.36 54.6L244.36 54.6ZM245.01 47.4L239.01 57.8L251.01 57.8ZM251.66 50L245.66 60.4L257.66 60.4ZM258.31 53.7L252.31 64.1L264.31 64.1ZM264.96 57.6L258.96 68L270.96 68ZM271.61 61.9L265.61 72.3L277.61 72.3ZM278.26 66.1L272.26 76.5L284.26 76.5ZM284.91 70.8L278.91 81.2L290.91 81.2ZM291.56 76.2L285.56 86.6L297.56 86.6ZM298.21 81L292.21 91.4L304.21 91.4ZM304.86 86.4L298.86 96.8L310.86 96.8ZM311.51 92.2L305.51 102.6L317.51 102.6ZM318.16 98.1L312.16 108.5L324.16 108.5ZM324.81 104.2L318.81 114.6L330.81 114.6ZM331.46 110.4L325.46 120.8L337.46 120.8ZM338.11 117.3L332.11 127.7L344.11 127.7ZM344.76 124.1L338.76 134.5L350.76 134.5ZM351.41 131.6L345.41 142L357.41 142Z" fill="#ff0000"/></g>
<g><path d="M736.22 30.2L742.52 36.5L736.22 42.8L729.92 36.5ZM726.18 36.2L732.48 42.5L726.18 48.8L719.88 42.5ZM716.36 42.5L722.66 48.8L716.36 55.1L710.06 48.8ZM706.76 51L713.06 57.3L706.76 63.6L700.46 57.3ZM697.37 60.4L703.67 66.7L697.37 73L691.07 66.7ZM688.19 70.6L694.49 76.9L688.19 83.2L681.89 76.9ZM679.21 82.57L685.51 88.87L679.21 95.17L672.91 88.87ZM670.42 95.17L676.72 101.47L670.42 107.77L664.12 101.47ZM661.82 108.15L668.12 114.45L661.82 120.75L655.52 114.45ZM653.4 121.29L659.7 127.59L653.4 133.89L647.1 127.59ZM645.15 134.39L651.45 140.69L645.15 146.99L638.85 140.69ZM637.08 147.31L643.38 153.61L637.08 159.91L630.78 153.61ZM629.17 159.93L635.47 166.23L629.17 172.53L622.87 166.23ZM621.41 172.17L627.71 178.47L621.41 184.77L615.11 178.47ZM613.81 183.97L620.11 190.27L613.81 196.57L607.51 190.27ZM606.37 195.32L612.67 201.62L606.37 207.92L600.07 201.62ZM599.06 206.2L605.36 212.5L599.06 218.8L592.76 212.5ZM591.9 216.62L598.2 222.92L591.9 229.22L585.6 222.92ZM584.88 226.61L591.18 232.91L584.88 239.21L578.58 232.91ZM577.99 236.18L584.29 242.48L577.99 248.78L571.69 242.48ZM571.23 245.38L577.53 251.68L571.23 257.98L564.93 251.68ZM564.6 254.24L570.9 260.54L564.6 266.84L558.3 260.54ZM558.08 262.78L564.38 269.08L558.08 275.38L551.78 269.08ZM551.69 271.03L557.99 277.33L551.69 283.63L545.39 277.33ZM545.41 279.02L551.71 285.32L545.41 291.62L539.11 285.32ZM539.25 286.74L545.55 293.04L539.25 299.34L532.95 293.04ZM533.2 294.22L539.5 300.52L533.2 306.82L526.9 300.52ZM527.25 301.42L533.55 307.72L527.25 314.02L520.95 307.72ZM521.41 308.34L527.71 314.64L521.41 320.94L515.11 314.64ZM515.67 314.94L521.97 321.24L515.67 327.54L509.37 321.24ZM510.02 321.19L516.32 327.49L510.02 333.79L503.72 327.49ZM504.48 327.02L510.78 333.32L504.48 339.62L498.18 333.32ZM499.02 332.36L505.32 338.66L499.02 344.96L492.72 338.66ZM493.66 337.15L499.96 343.45L493.66 349.75L487.36 343.45ZM488.39 341.28L494.69 347.58L488.39 353.88L482.09 347.58Z" fill="#00ffff"/><path d="M762.71 79.8a5.1 5.1 0 1 0 10.2 0a5.1 5.1 0 1 0 -10.2 0ZM751.93 89.8a5.1 5.1 0 1 0 10.2 0a5.1 5.1 0 1 0 -10.2 0ZM741.4 102.1a5.1 5.1 0 1 0 10.2 0a5.1 5.1 0 1 0 -10.2 0ZM731.12 113.2a5.1 5.1 0 1 0 10.2 0a5.1 5.1 0 1 0 -10.2 0ZM721.08 125.1a5.1 5.1 0 1 0 10.2 0a5.1 5.1 0 1 0 -10.2 0ZM711.26 137.4a5.1 5.1 0 1 0 10.2 0a5.1 5.1 0 1 0 -10.2 0ZM701.66 150.6a5.1 5.1 0 1 0 10.2 0a5.1 5.1 0 1 0 -10.2 0ZM692.27 163.9a5.1 5.1 0 1 0 10.2 0a5.1 5.1 0 1 0 -10.2 0ZM683.09 175.8a5.1 5.1 0 1 0 10.2 0a5.1 5.1 0 1 0 -10.2 0ZM674.11 185.9a5.1 5.1 0 1 0 10.2 0a5.1 5.1 0 1 0 -10.2 0ZM665.32 198.3a5.1 5.1 0 1 0 10.2 0a5.1 5.1 0 1 0 -10.2 0ZM656.72 208.4a5.1 5.1 0 1 0 10.2 0a5.1 5.1 0 1 0 -10.2 0ZM648.3 220.1a5.1 5.1 0 1 0 10.2 0a5.1 5.1 0 1 0 -10.2 0ZM640.05 229.4a5.1 5.1 0 1 0 10.2 0a5.1 5.1 0 1 0 -10.2 0ZM631.98 238.7a5.1 5.1 0 1 0 10.2 0a5.1 5.1 0 1 0 -10.2 0ZM624.07 246a5.1 5.1 0 1 0 10.2 0a5.1 5.1 0 1 0 -10.2 0ZM616.31 254.5a5.1 5.1 0 1 0 10.2 0a5.1 5.1 0 1 0 -10.2 0ZM608.71 263.4a5.1 5.1 0 1 0 10.2 0a5.1 5.1 0 1 0 -10.2 0ZM601.27 271.4a5.1 5.1 0 1 0 10.2 0a5.1 5.1 0 1 0 -10.2 0ZM593.96 279.5a5.1 5.1 0 1 0 10.2 0a5.1 5.1 0 1 0 -10.2 0ZM586.8 287.5a5.1 5.1 0 1 0 10.2 0a5.1 5.1 0 1 0 -10.2 0ZM579.78 296.3a5.1 5.1 0 1 0 10.2 0a5.1 5.1 0 1 0 -10.2 0ZM572.89 305.1a5.1 5.1 0 1 0 10.2 0a5.1 5.1 0 1 0 -10.2 0ZM566.13 312.5a5.1 5.1 0 1 0 10.2 0a5.1 5.1 0 1 0 -10.2 0ZM559.5 321.1a5.1 5.1 0 1 0 10.2 0a5.1 5.1 0 1 0 -10.2 0ZM552.98 332a5.1 5.1 0 1 0 10.2 0a5.1 5.1 0 1 0 -10.2 0ZM546.59 335.8a5.1 5.1 0 1 0 10.2 0a5.1 5.1 0 1 0 -10.2 0ZM540.31 345.4a5.1 5.1 0 1 0 10.2 0a5.1 5.1 0 1 0 -10.2 0ZM534.15 353.7a5.1 5.1 0 1 0 10.2 0a5.1 5.1 0 1 0 -10.2 0ZM528.1 362.4a5.1 5.1 0 1 0 10.2 0a5.1 5.1 0 1 0 -10.2 0ZM522.15 366a5.1 5.1 0 1 0 10.2 0a5.1 5.1 0 1 0 -10.2 0ZM516.31 377.9a5.1 5.1 0 1 0 10.2 0a5.1 5.1 0 1 0 -10.2 0ZM510.57 376.9a5.1 5.1 0 1 0 10.2 0a5.1 5.1 0 1 0 -10.2 0ZM504.92 389.4a5.1 5.1 0 1 0 10.2 0a5.1 5.1 0 1 0 -10.2 0ZM499.38 395.2a5.1 5.1 0 1 0 10.2 0a5.1 5.1 0 1 0 -10.2 0ZM493.92 407.1a5.1 5.1 0 1 0 10.2 0a5.1 5.1 0 1 0 -10.2 0ZM488.56 422a5.1 5.1 0 1 0 10.2 0a5.1 5.1 0 1 0 -10.2 0ZM483.29 417.5a5.1 5.1 0 1 0 10.2 0a5.1 5.1 0 1 0 -10.2 0Z" fill="#0000ff"/><path d="M767.81 94.2L772.81 96.9L772.81 102.3L767.81 105L762.81 102.3L762.81 96.9ZM746.5 117.8L751.5 120.5L751.5 125.9L746.5 128.6L741.5 125.9L741.5 120.5ZM736.22 129.8L741.22 132.5L741.22 137.9L736.22 140.6L731.22 137.9L731.22 132.5ZM726.18 142.2L731.18 144.9L731.18 150.3L726.18 153L721.18 150.3L721.18 144.9ZM716.36 154.5L721.36 157.2L721.36 162.6L716.36 165.3L711.36 162.6L711.36 157.2ZM706.76 166.2L711.76 168.9L711.76 174.3L706.76 177L701.76 174.3L701.76 168.9ZM697.37 178.9L702.37 181.6L702.37 187L697.37 189.7L692.37 187L692.37 181.6ZM688.19 190.9L693.19 193.6L693.19 199L688.19 201.7L683.19 199L683.19 193.6ZM679.21 202.8L684.21 205.5L684.21 210.9L679.21 213.6L674.21 210.9L674.21 205.5ZM670.42 215L675.42 217.7L675.42 223.1L670.42 225.8L665.42 223.1L665.42 217.7ZM661.82 227.7L666.82 230.4L666.82 235.8L661.82 238.5L656.82 235.8L656.82 230.4ZM653.4 240.5L658.4 243.2L658.4 248.6L653.4 251.3L648.4 248.6L648.4 243.2ZM645.15 251.2L650.15 253.9L650.15 259.3L645.15 262L640.15 259.3L640.15 253.9ZM637.08 261.1L642.08 263.8L642.08 269.2L637.08 271.9L632.08 269.2L632.08 263.8ZM629.17 271L634.17 273.7L634.17 279.1L629.17 281.8L624.17 279.1L624.17 273.7ZM621.41 281L626.41 283.7L626.41 289.1L621.41 291.8L616.41 289.1L616.41 283.7ZM613.81 290.9L618.81 293.6L618.81 299L613.81 301.7L608.81 299L608.81 293.6ZM606.37 301.6L611.37 304.3L611.37 309.7L606.37 312.4L601.37 309.7L601.37 304.3ZM599.06 312.3L604.06 315L604.06 320.4L599.06 323.1L594.06 320.4L594.06 315ZM591.9 323.8L596.9 326.5L596.9 331.9L591.9 334.6L586.9 331.9L586.9 326.5ZM584.88 334.5L589.88 337.2L589.88 342.6L584.88 345.3L579.88 342.6L579.88 337.2ZM577.99 346.1L582.99 348.8L582.99 354.2L577.99 356.9L572.99 354.2L572.99 348.8ZM571.23 358.6L576.23 361.3L576.23 366.7L571.23 369.4L566.23 366.7L566.23 361.3ZM564.6 366.8L569.6 369.5L569.6 374.9L564.6 377.6L559.6 374.9L559.6 369.5ZM558.08 377.5L563.08 380.2L563.08 385.6L558.08 388.3L553.08 385.6L553.08 380.2ZM551.69 387.4L556.69 390.1L556.69 395.5L551.69 398.2L546.69 395.5L546.69 390.1ZM545.41 397.2L550.41 399.9L550.41 405.3L545.41 408L540.41 405.3L540.41 399.9ZM539.25 405.5L544.25 408.2L544.25 413.6L539.25 416.3L534.25 413.6L534.25 408.2ZM533.2 413.7L538.2 416.4L538.2 421.8L533.2 424.5L528.2 421.8L528.2 416.4ZM527.25 422.7L532.25 425.4L532.25 430.8L527.25 433.5L522.25 430.8L522.25 425.4ZM521.41 426.6L526.41 429.3L526.41 434.7L521.41 437.4L516.41 434.7L516.41 429.3ZM515.67 436.1L520.67 438.8L520.67 444.2L515.67 446.9L510.67 444.2L510.67 438.8ZM510.02 442.4L515.02 445.1L515.02 450.5L510.02 453.2L505.02 450.5L505.02 445.1ZM504.48 447.9L509.48 450.6L509.48 456L504.48 458.7L499.48 456L499.48 450.6ZM499.02 453.1L504.02 455.8L504.02 461.2L499.02 463.9L494.02 461.2L494.02 455.8ZM493.66 458.1L498.66 460.8L498.66 466.2L493.66 468.9L488.66 466.2L488.66 460.8ZM488.39 462.8L493.39 465.5L493.39 470.9L488.39 473.6L483.39 470.9L483.39 465.5Z" fill="#00ff00"/><path d="M757.03 106.3L762.03 109L762.03 114.4L757.03 117.1L752.03 114.4L752.03 109Z" fill="#ff0000"/><line x1="488.2" y1="348.4" x2="521.6" y2="316.3" stroke="#ff0000" stroke-width="3.3" stroke-linecap="round"/><line x1="527.4" y1="307.2" x2="551.5" y2="276.5" stroke="#ff0000" stroke-width="3.3" stroke-linecap="round"/><line x1="558.1" y1="271.4" x2="621.3" y2="179.1" stroke="#ff0000" stroke-width="3.3" stroke-linecap="round"/><line x1="628.3" y1="165.3" x2="688" y2="75.5" stroke="#ff0000" stroke-width="3.3" stroke-linecap="round"/><line x1="487.9" y1="421.4" x2="521.6" y2="373.4" stroke="#ff0000" stroke-width="3.3" stroke-linecap="round"/><line x1="526.8" y1="366.8" x2="621.6" y2="254.5" stroke="#ff0000" stroke-width="3.3" stroke-linecap="round"/><line x1="628.6" y1="247.5" x2="767.3" y2="76.6" stroke="#ff0000" stroke-width="3.3" stroke-linecap="round"/><line x1="487.6" y1="469" x2="522" y2="436.8" stroke="#ff0000" stroke-width="3.3" stroke-linecap="round"/><line x1="526.6" y1="429.8" x2="621.4" y2="285.6" stroke="#ff0000" stroke-width="3.3" stroke-linecap="round"/><line x1="629.3" y1="273.3" x2="767" y2="97" stroke="#ff0000" stroke-width="3.3" stroke-linecap="round"/></g>
<g><polygon points="67,339.9 60.75,350.8 73.25,350.8" fill="#ff0000"/><rect x="62.35" y="361.65" width="9.3" height="9.3" fill="#000"/><polygon points="67,379.7 73.3,386.1 67,392.5 60.7,386.1" fill="#00ffff"/><polygon points="67,399.9 72.8,405.5 67,411.1 61.2,405.5" fill="#fff" stroke="#00ffff" stroke-width="1.6"/><polygon points="67,420.1 71.9,422.75 71.9,428.05 67,430.7 62.1,428.05 62.1,422.75" fill="#00ff00"/><polygon points="67,440.1 71.4,442.55 71.4,447.45 67,449.9 62.6,447.45 62.6,442.55" fill="#fff" stroke="#00ff00" stroke-width="1.7"/><circle cx="67" cy="464.7" r="5.15" fill="#0000ff"/><circle cx="67" cy="484.1" r="4.2" fill="#fff" stroke="#0000ff" stroke-width="2"/></g>
<g><line x1="46" y1="10.5" x2="50" y2="10.5" stroke="#000" stroke-width="2.7"/><line x1="46" y1="113.26" x2="50" y2="113.26" stroke="#000" stroke-width="2.7"/><line x1="46" y1="216.02" x2="50" y2="216.02" stroke="#000" stroke-width="2.7"/><line x1="46" y1="318.78" x2="50" y2="318.78" stroke="#000" stroke-width="2.7"/><line x1="46" y1="421.54" x2="50" y2="421.54" stroke="#000" stroke-width="2.7"/><line x1="47.5" y1="61.88" x2="50" y2="61.88" stroke="#888" stroke-width="1"/><line x1="47.5" y1="164.64" x2="50" y2="164.64" stroke="#888" stroke-width="1"/><line x1="47.5" y1="267.4" x2="50" y2="267.4" stroke="#888" stroke-width="1"/><line x1="47.5" y1="370.16" x2="50" y2="370.16" stroke="#888" stroke-width="1"/><line x1="47.5" y1="472.92" x2="50" y2="472.92" stroke="#888" stroke-width="1"/><line x1="50.5" y1="498" x2="50.5" y2="503" stroke="#000" stroke-width="2.8"/><line x1="133.4" y1="498" x2="133.4" y2="503" stroke="#000" stroke-width="2.8"/><line x1="216.3" y1="498" x2="216.3" y2="503" stroke="#000" stroke-width="2.8"/><line x1="299.2" y1="498" x2="299.2" y2="503" stroke="#000" stroke-width="2.8"/><line x1="382.1" y1="498" x2="382.1" y2="503" stroke="#000" stroke-width="2.8"/><line x1="91.95" y1="498" x2="91.95" y2="501" stroke="#888" stroke-width="1"/><line x1="174.85" y1="498" x2="174.85" y2="501" stroke="#888" stroke-width="1"/><line x1="257.75" y1="498" x2="257.75" y2="501" stroke="#888" stroke-width="1"/><line x1="340.65" y1="498" x2="340.65" y2="501" stroke="#888" stroke-width="1"/><line x1="460.5" y1="10.5" x2="464" y2="10.5" stroke="#000" stroke-width="2.7"/><line x1="460.5" y1="116.06" x2="464" y2="116.06" stroke="#000" stroke-width="2.7"/><line x1="460.5" y1="221.62" x2="464" y2="221.62" stroke="#000" stroke-width="2.7"/><line x1="460.5" y1="327.18" x2="464" y2="327.18" stroke="#000" stroke-width="2.7"/><line x1="460.5" y1="432.74" x2="464" y2="432.74" stroke="#000" stroke-width="2.7"/><line x1="462" y1="63.28" x2="464" y2="63.28" stroke="#888" stroke-width="1"/><line x1="462" y1="168.84" x2="464" y2="168.84" stroke="#888" stroke-width="1"/><line x1="462" y1="274.4" x2="464" y2="274.4" stroke="#888" stroke-width="1"/><line x1="462" y1="379.96" x2="464" y2="379.96" stroke="#888" stroke-width="1"/><line x1="462" y1="485.52" x2="464" y2="485.52" stroke="#888" stroke-width="1"/><line x1="464.5" y1="498" x2="464.5" y2="503" stroke="#000" stroke-width="2.8"/><line x1="524.98" y1="498" x2="524.98" y2="503" stroke="#000" stroke-width="2.8"/><line x1="585.46" y1="498" x2="585.46" y2="503" stroke="#000" stroke-width="2.8"/><line x1="645.94" y1="498" x2="645.94" y2="503" stroke="#000" stroke-width="2.8"/><line x1="706.42" y1="498" x2="706.42" y2="503" stroke="#000" stroke-width="2.8"/><line x1="766.9" y1="498" x2="766.9" y2="503" stroke="#000" stroke-width="2.8"/><line x1="494.74" y1="498" x2="494.74" y2="501" stroke="#888" stroke-width="1"/><line x1="555.22" y1="498" x2="555.22" y2="501" stroke="#888" stroke-width="1"/><line x1="615.7" y1="498" x2="615.7" y2="501" stroke="#888" stroke-width="1"/><line x1="676.18" y1="498" x2="676.18" y2="501" stroke="#888" stroke-width="1"/><line x1="736.66" y1="498" x2="736.66" y2="501" stroke="#888" stroke-width="1"/><line x1="797.14" y1="498" x2="797.14" y2="501" stroke="#888" stroke-width="1"/><rect x="50.5" y="10.5" width="332" height="488" fill="none" stroke="#000" stroke-width="3"/><rect x="464.5" y="10.5" width="333" height="488" fill="none" stroke="#000" stroke-width="3"/></g>
<g font-family="Liberation Sans, sans-serif" fill="#000" stroke="#000" stroke-width="0.28"><text x="43.6" y="16.1" font-size="18" text-anchor="end">4</text><text x="43.6" y="118.86" font-size="18" text-anchor="end">0</text><text x="43.6" y="221.62" font-size="18" text-anchor="end">-4</text><text x="43.6" y="324.38" font-size="18" text-anchor="end">-8</text><text x="43.6" y="427.14" font-size="18" text-anchor="end">-12</text><text x="50.5" y="519.2" font-size="18" text-anchor="middle">300</text><text x="133.4" y="519.2" font-size="18" text-anchor="middle">350</text><text x="216.3" y="519.2" font-size="18" text-anchor="middle">400</text><text x="299.2" y="519.2" font-size="18" text-anchor="middle">450</text><text x="382.1" y="519.2" font-size="18" text-anchor="middle">500</text><text x="457.8" y="16.1" font-size="18" text-anchor="end">-2</text><text x="457.8" y="121.66" font-size="18" text-anchor="end">-4</text><text x="457.8" y="227.22" font-size="18" text-anchor="end">-6</text><text x="457.8" y="332.78" font-size="18" text-anchor="end">-8</text><text x="457.8" y="438.34" font-size="18" text-anchor="end">-10</text><text x="464.5" y="519.2" font-size="18" text-anchor="middle">2.0</text><text x="524.98" y="519.2" font-size="18" text-anchor="middle">2.2</text><text x="585.46" y="519.2" font-size="18" text-anchor="middle">2.4</text><text x="645.94" y="519.2" font-size="18" text-anchor="middle">2.6</text><text x="706.42" y="519.2" font-size="18" text-anchor="middle">2.8</text><text x="766.9" y="519.2" font-size="18" text-anchor="middle">3.0</text><text x="191.4" y="542.5" font-size="24" text-anchor="start">T [K]</text><text y="543.5" font-size="23"><tspan x="570.2">1000</tspan><tspan x="619.7">/T</tspan><tspan x="645.5" font-size="22">[1/K]</tspan></text><text transform="translate(23.4,0) rotate(-90)" font-size="23"><tspan x="-271.4" y="0">l</tspan><tspan x="-266.2" y="0">n</tspan><tspan x="-252.6" y="0">&#964;</tspan><tspan x="-242.1" y="6.5" font-size="16" font-style="italic">r</tspan></text><text transform="translate(437.4,0) rotate(-90)" font-size="23"><tspan x="-272.3" y="0">l</tspan><tspan x="-267.4" y="0">n</tspan><tspan x="-254.5" y="0">&#964;</tspan><tspan x="-245" y="6.2" font-size="16" font-style="italic">r</tspan></text><text x="-0.5" y="17.5" font-size="23.5" text-anchor="start">a</text><text x="14.2" y="17.5" font-size="23.5" text-anchor="start">)</text><text x="411.6" y="19.2" font-size="23.5" text-anchor="start">b</text><text x="426" y="19.4" font-size="24" text-anchor="start">)</text><text x="89.2" y="352.1" font-size="16" text-anchor="start">SC3</text><text x="89.2" y="371.81" font-size="16" text-anchor="start">SC13</text><text x="89.2" y="391.52" font-size="16" text-anchor="start">PC71BM:SC3</text><text x="89.2" y="411.23" font-size="16" text-anchor="start">PC71BM:SC3</text><text x="89.2" y="430.94" font-size="16" text-anchor="start">PC71BM:SC13</text><text x="89.2" y="450.65" font-size="16" text-anchor="start">PC71BM:SC13</text><text x="89.2" y="470.36" font-size="16" text-anchor="start">PC71BM</text><text x="89.2" y="490.07" font-size="16" text-anchor="start">PC71BM</text></g>
</svg>
</body></html>
